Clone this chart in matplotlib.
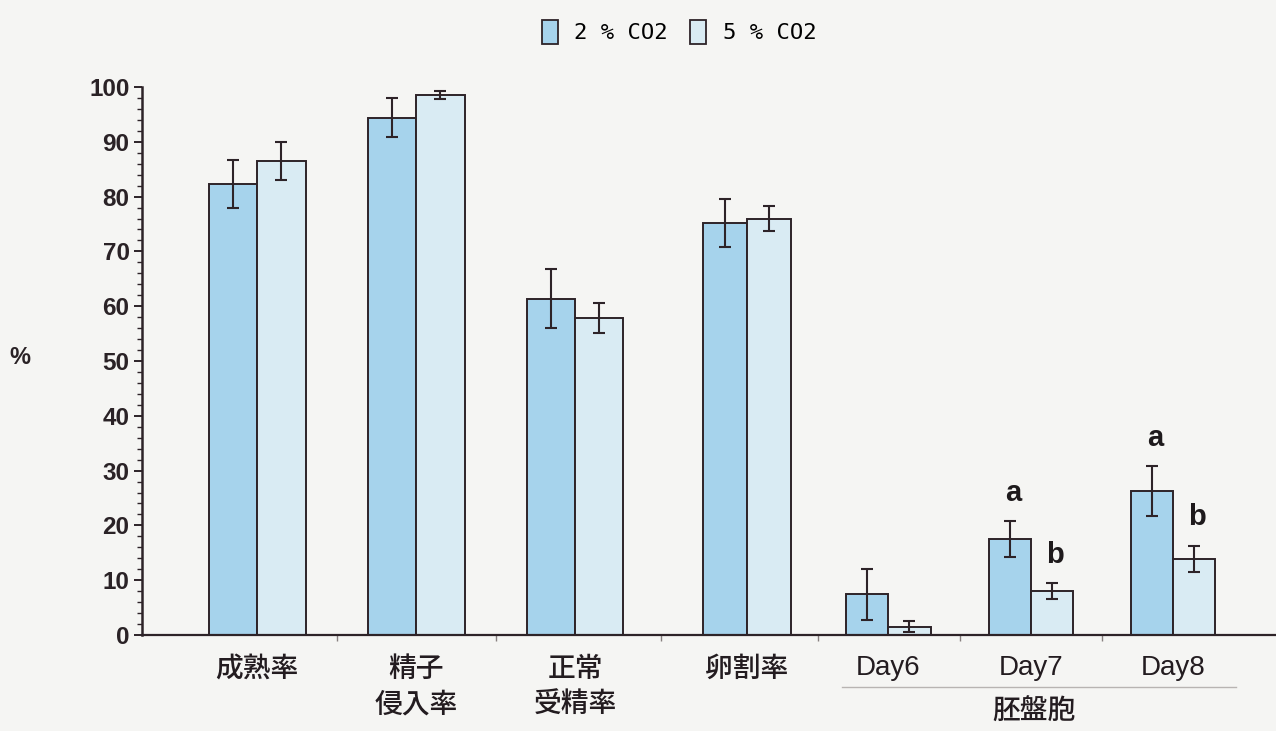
import matplotlib
matplotlib.use("Agg")
import matplotlib.pyplot as plt
from matplotlib.patches import Patch
from matplotlib.lines import Line2D

# ---- data ----
categories = ['成熟率', '精子\n侵入率', '正常\n受精率', '卵割率', 'Day6', 'Day7', 'Day8']
series_names = ['2 % CO2', '5 % CO2']
co2_2 = [82.3, 94.4, 61.4, 75.2, 7.4, 17.5, 26.3]
co2_2_se = [4.3, 3.6, 5.3, 4.4, 4.7, 3.3, 4.5]
co2_5 = [86.5, 98.6, 57.8, 76.0, 1.5, 8.0, 13.9]
co2_5_se = [3.5, 0.7, 2.7, 2.3, 1.0, 1.4, 2.4]
sig_2 = ['', '', '', '', '', 'a', 'a']
sig_5 = ['', '', '', '', '', 'b', 'b']
group_label = '胚盤胞'
y_ticks = list(range(0, 101, 10))

# ---- style ----
W, H = 1276, 731
BG = '#f5f5f3'
C2 = '#a6d3ec'
C5 = '#d9ebf3'
EDGE = '#2d2328'
plt.rcParams['font.family'] = ['Liberation Sans', 'Noto Sans CJK JP', 'DejaVu Sans']

fig = plt.figure(figsize=(W / 100, H / 100), dpi=100, facecolor=BG)
ax = fig.add_axes([142 / W, (H - 635) / H, (W - 142) / W, 548 / H])
ax.set_facecolor(BG)

# layout (pixel-like x units)
centers = [257, 416, 575, 747, 888, 1031, 1173]
widths = [48.5, 48.5, 48, 44, 42.5, 42, 42]

x2 = [c - w / 2 for c, w in zip(centers, widths)]
x5 = [c + w / 2 for c, w in zip(centers, widths)]
ax.bar(x2, co2_2, width=widths, color=C2, edgecolor=EDGE, linewidth=1.4, zorder=2)
ax.bar(x5, co2_5, width=widths, color=C5, edgecolor=EDGE, linewidth=1.4, zorder=2)
ax.errorbar(x2, co2_2, yerr=co2_2_se, fmt='none', ecolor=EDGE, elinewidth=1.5,
            capsize=4, capthick=1.5, zorder=3)
ax.errorbar(x5, co2_5, yerr=co2_5_se, fmt='none', ecolor=EDGE, elinewidth=1.5,
            capsize=4, capthick=1.5, zorder=3)

for xs, vals, ses, sigs in [(x2, co2_2, co2_2_se, sig_2), (x5, co2_5, co2_5_se, sig_5)]:
    for x, v, s, t in zip(xs, vals, ses, sigs):
        if t:
            ax.text(x + 3, v + s + 5.2, t, ha='center', va='center',
                    fontsize=21, fontweight='bold', color='#1e1a1c')

ax.set_xlim(142, W)
ax.set_ylim(0, 100)
ax.set_yticks(y_ticks)
ax.set_yticklabels([str(t) for t in y_ticks], fontsize=17.5, fontweight='bold', color='#2a2226')
ax.set_yticks(range(0, 101, 2), minor=True)
ax.tick_params(axis='y', which='major', length=6, width=1.4, color=EDGE, pad=3, direction='out')
ax.tick_params(axis='y', which='minor', length=3.5, width=1.0, color=EDGE, direction='out')

seps = [(centers[i] + centers[i + 1]) / 2 for i in range(len(centers) - 1)]
ax.set_xticks(seps)
ax.set_xticklabels([])
ax.tick_params(axis='x', which='major', length=4, width=1.0, color='#888080', direction='out')

for side in ['top', 'right']:
    ax.spines[side].set_visible(False)
ax.spines['left'].set_color(EDGE)
ax.spines['left'].set_linewidth(1.8)
ax.spines['bottom'].set_color(EDGE)
ax.spines['bottom'].set_linewidth(1.6)

# category labels
for c, lab in zip(centers, categories):
    lines = lab.split('\n')
    is_day = lab.startswith('Day')
    for i, ln in enumerate(lines):
        dy = 33 if is_day else 35 + 36 * i
        ax.annotate(ln, xy=(c, 0), xycoords=('data', 'axes fraction'),
                    xytext=(0, -dy * 0.72), textcoords='offset points',
                    ha='center', va='center', fontsize=20,
                    fontweight='normal' if is_day else 'medium',
                    color='#231c20', annotation_clip=False)

# bracket line and group label under Day groups
fig.add_artist(Line2D([842 / W, 1236 / W], [(H - 687) / H] * 2, color='#b8b4b2', lw=1.0))
fig.text(1034 / W, (H - 713) / H, group_label, ha='center', va='center', fontsize=20,
         fontweight='medium', color='#231c20')

# y label
fig.text(20 / W, (H - 357) / H, '%', ha='center', va='center', fontsize=17,
         fontweight='bold', color='#2a2226')

# legend
handles = [Patch(facecolor=C2, edgecolor=EDGE, linewidth=1.3),
           Patch(facecolor=C5, edgecolor=EDGE, linewidth=1.3)]
fig.legend(handles, series_names, loc='center', bbox_to_anchor=(679 / W, 1 - 32 / H),
           ncol=2, frameon=False, handlelength=0.72, handleheight=1.25,
           handletextpad=0.75, columnspacing=1.0,
           prop={'family': 'DejaVu Sans Mono', 'size': 16})

fig.savefig('out.png', dpi=100, facecolor=BG)
